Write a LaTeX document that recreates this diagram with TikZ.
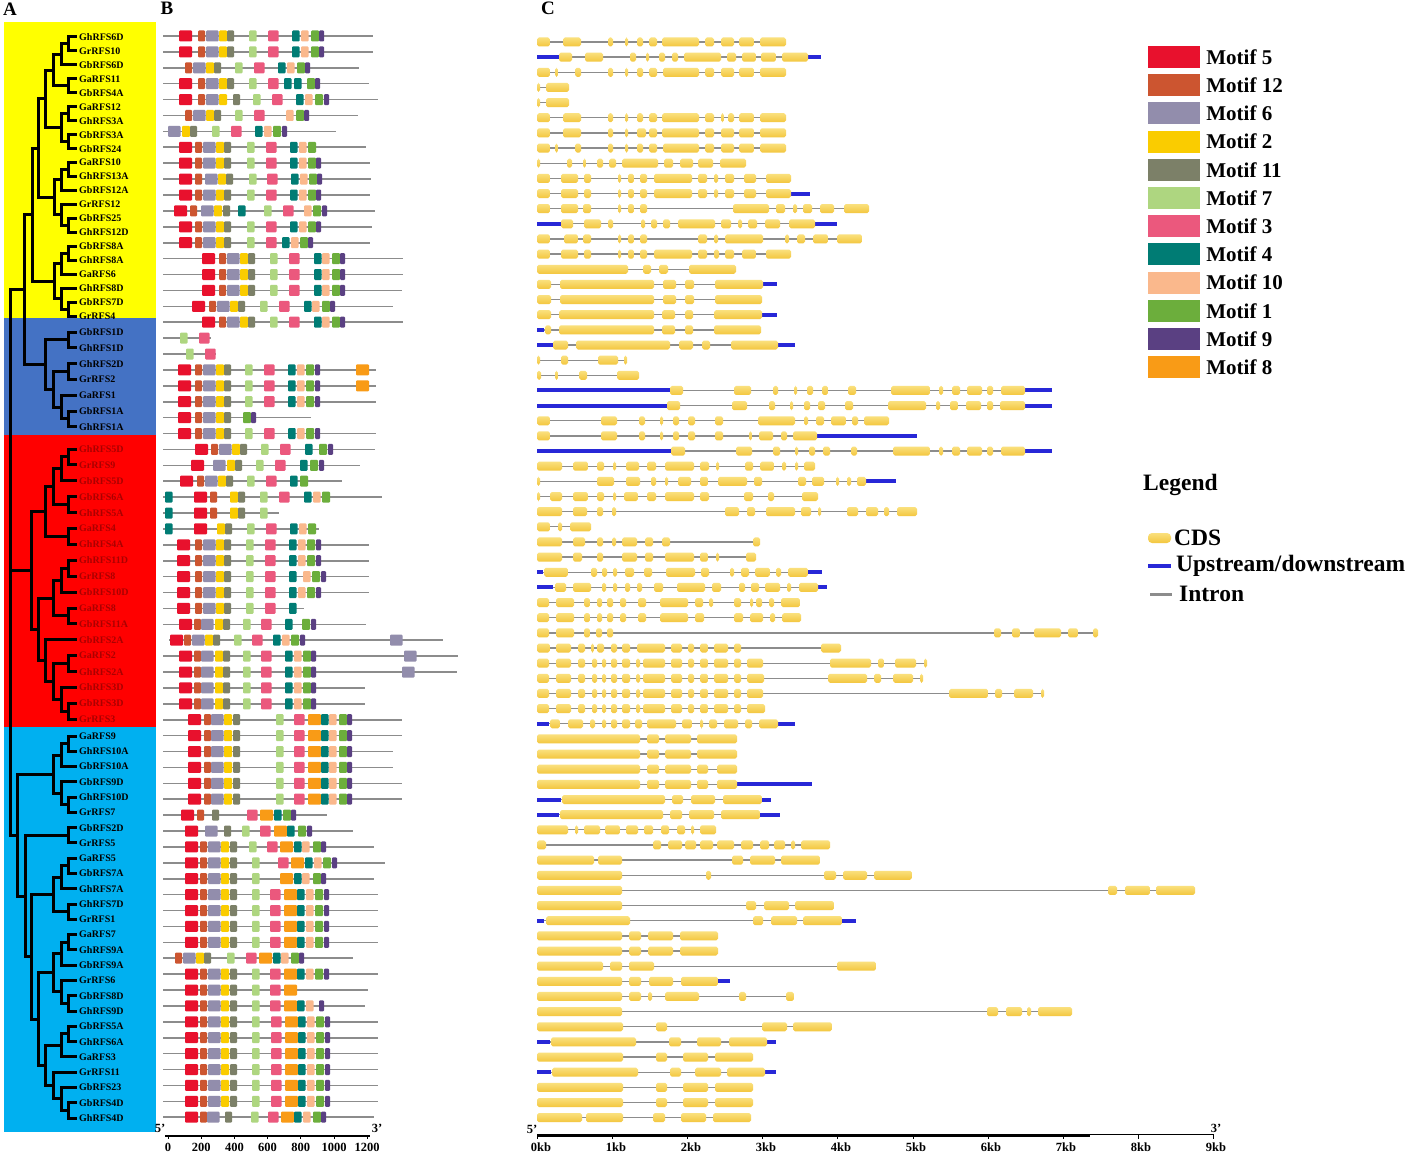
\documentclass[tikz,border=0pt]{standalone}
\usepackage{fontspec}
\setmainfont{Liberation Serif}
\usetikzlibrary{positioning, calc}

\definecolor{motif5}{RGB}{232, 17, 45}
\definecolor{motif12}{RGB}{204, 85, 48}
\definecolor{motif6}{RGB}{146, 141, 172}
\definecolor{motif2}{RGB}{250, 204, 0}
\definecolor{motif11}{RGB}{124, 128, 104}
\definecolor{motif7}{RGB}{174, 214, 128}
\definecolor{motif3}{RGB}{235, 88, 125}
\definecolor{motif4}{RGB}{0, 124, 116}
\definecolor{motif10}{RGB}{250, 184, 140}
\definecolor{motif1}{RGB}{108, 174, 60}
\definecolor{motif9}{RGB}{90, 64, 130}
\definecolor{motif8}{RGB}{249, 155, 22}
\definecolor{cladeyellow}{RGB}{255, 255, 0}
\definecolor{cladeblue}{RGB}{68, 114, 196}
\definecolor{cladered}{RGB}{255, 0, 0}
\definecolor{cladecyan}{RGB}{0, 176, 240}
\definecolor{labelred}{RGB}{170, 0, 0}
\definecolor{cdsyellow}{RGB}{243, 198, 62}
\definecolor{cdslight}{RGB}{250, 224, 125}
\definecolor{utrblue}{RGB}{40, 40, 215}
\definecolor{introngray}{RGB}{140, 140, 140}

% motif letters -> colours and widths
\colorlet{mR}{motif5}\colorlet{mO}{motif12}\colorlet{mG}{motif6}
\colorlet{mY}{motif2}\colorlet{mV}{motif11}\colorlet{mL}{motif7}
\colorlet{mP}{motif3}\colorlet{mT}{motif4}\colorlet{mE}{motif10}
\colorlet{mN}{motif1}\colorlet{mU}{motif9}\colorlet{mA}{motif8}
\def\mwR{13}\def\mwO{7}\def\mwG{12.5}\def\mwY{8}\def\mwV{7}\def\mwL{7.5}
\def\mwP{10.5}\def\mwT{7.5}\def\mwE{7.5}\def\mwN{8}\def\mwU{5}\def\mwA{13}

% one protein row of panel B
\newcommand\motifrow[4]{%
  \pgfmathsetmacro\by{36+15.9*(#1-1)}
  \draw[protline] (#2,\by) -- (#3,\by);
  \edef\mlist{#4}
  \foreach \mt/\ms in \mlist {
    \fill[fill=m\mt, rounded corners=1pt] (\ms,\by-5.5) rectangle ++(\csname mw\mt\endcsname,11);
  }
}

% one gene row of panel C
\newcommand\generow[4]{%
  \pgfmathsetmacro\cy{42+15.15*(#1-1)}
  \draw[intron] (537,\cy) -- (#2,\cy);
  \edef\ulist{#4}
  \ifx\ulist\empty\else
    \foreach \ua/\ub in \ulist { \fill[utrblue] (\ua,\cy-2) rectangle (\ub,\cy+2); }
  \fi
  \edef\clist{#3}
  \foreach \ca/\cb in \clist { \shade[cds] (\ca,\cy-4.5) rectangle (\cb,\cy+4.5); }
}

% one clade of the tree
\newcommand\clade[4]{%
  \coordinate (#1m) at ($(#3)!0.5!(#4)$);
  \coordinate (#1x) at (#2,0);
  \coordinate (#1) at (#1x |- #1m);
  \draw[branch] (#1) |- (#3);
  \draw[branch] (#1) |- (#4);
}

\def\byA{R/179,O/198,G/206,Y/219,V/227,L/249,P/268,T/292,E/301,N/311,U/319}
\def\byB{R/179,O/195,G/203,Y/216,V/224,L/247,P/266,T/290,E/299,N/308,U/316}
\def\byC{R/202,O/219,G/227,Y/240,V/248,L/270,P/289,T/314,E/322,N/332,U/340}
\def\bbl{R/178,O/195,G/203,Y/216,V/224,L/245,P/264,T/288,E/297,N/306,U/315}
\def\brd{R/177,O/195,G/203,Y/216,V/224,L/246,P/265,T/289,E/298,N/307,U/316}
\def\brs{R/179,O/194,G/201,Y/215,V/223,L/243,P/261,T/285,E/294,N/303,U/311}
\def\bcA{R/188,O/204,G/211,Y/224,V/233,L/276,P/294,A/308,T/321,E/329,N/339,U/347}
\def\bcB{R/185,O/200,G/208,Y/221,V/230,L/252,P/270,A/284,T/297,E/306,N/315,U/324}
\def\bcC{R/185,O/200,G/208,Y/221,V/230,L/252,P/271,A/285,T/298,E/307,N/316,U/325}

\def\cya{537/550,563/581,608/613,625/628,637/643,649/657,662/699,705/714,721/734,739/754,760/786}
\def\cyb{537/550,555/558,575/581,608/613,625/628,637/643,649/657,663/699,705/714,721/734,739/754,760/786}
\def\cyc{537/550,561/578,584/591,618/621,628/634,640/647,654/692,698/707,714/718,725/734,744/756,766/791}
\def\cre{537/549,556/571,578/585,592/597,602/606,611/617,622/630,636/640,643/665,671/682,688/694,700/708,714/728,734/741}
\def\ccy{537/623,656/667,683/708,715/753}

\begin{document}
\begin{tikzpicture}[x=1pt, y=-1pt,
  branch/.style={line width=3pt, black},
  genelab/.style={font=\fontsize{10}{10}\selectfont\bfseries, inner sep=0pt, anchor=west},
  protline/.style={line width=1.6pt, introngray},
  intron/.style={line width=1.3pt, introngray},
  cds/.style={top color=cdslight, bottom color=cdsyellow, rounded corners=1.8pt},
  legbox/.style={minimum width=52pt, minimum height=22pt, inner sep=0pt},
  legtext/.style={font=\fontsize{21}{22}\selectfont\bfseries, inner sep=0pt, anchor=west},
  keytext/.style={font=\fontsize{23.5}{24}\selectfont\bfseries, inner sep=0pt, anchor=west},
  axlab/.style={font=\fontsize{12.5}{12.5}\selectfont\bfseries, inner sep=0pt},
  panel/.style={font=\fontsize{19}{19}\selectfont\bfseries, inner sep=0pt}
]
  \fill[white] (0,0) rectangle (1416,1153);
  \useasboundingbox (0,0) rectangle (1416,1153);

  % panel letters
  \node[panel] (pa) at (10,9) {A};
  \node[panel] (pb) at (167,8) {B};
  \node[panel] (pc) at (548,8) {C};

  % ---- A: clade blocks ----
  \fill[cladeyellow] (4,22) rectangle (156,318);
  \fill[cladeblue] (4,318) rectangle (156,435);
  \fill[cladered] (4,435) rectangle (156,727);
  \fill[cladecyan] (4,727) rectangle (156,1132);

  % leaves and labels
  \foreach \i/\nm in {1/GhRFS6D, 2/GrRFS10, 3/GbRFS6D, 4/GaRFS11, 5/GbRFS4A,
      6/GaRFS12, 7/GhRFS3A, 8/GbRFS3A, 9/GbRFS24, 10/GaRFS10, 11/GhRFS13A,
      12/GbRFS12A, 13/GrRFS12, 14/GbRFS25, 15/GhRFS12D, 16/GbRFS8A, 17/GhRFS8A,
      18/GaRFS6, 19/GhRFS8D, 20/GbRFS7D, 21/GrRFS4, 22/GbRFS1D, 23/GhRFS1D,
      24/GhRFS2D, 25/GrRFS2, 26/GaRFS1, 27/GbRFS1A, 28/GhRFS1A, 29/GhRFS5D,
      30/GrRFS9, 31/GbRFS5D, 32/GbRFS6A, 33/GhRFS5A, 34/GaRFS4, 35/GhRFS4A,
      36/GhRFS11D, 37/GrRFS8, 38/GbRFS10D, 39/GaRFS8, 40/GbRFS11A, 41/GbRFS2A,
      42/GaRFS2, 43/GhRFS2A, 44/GhRFS3D, 45/GbRFS3D, 46/GrRFS3, 47/GaRFS9,
      48/GhRFS10A, 49/GbRFS10A, 50/GbRFS9D, 51/GhRFS10D, 52/GrRFS7, 53/GbRFS2D,
      54/GrRFS5, 55/GaRFS5, 56/GbRFS7A, 57/GhRFS7A, 58/GhRFS7D, 59/GrRFS1,
      60/GaRFS7, 61/GhRFS9A, 62/GbRFS9A, 63/GrRFS6, 64/GbRFS8D, 65/GhRFS9D,
      66/GbRFS5A, 67/GhRFS6A, 68/GaRFS3, 69/GrRFS11, 70/GbRFS23, 71/GbRFS4D,
      72/GhRFS4D} {
    \pgfmathsetmacro\ly{\i<22 ? 37+13.95*(\i-1) : (\i<29 ? 332+15.8*(\i-22) : (\i<47 ? 449+15.9*(\i-29) : 736+15.28*(\i-47)))}
    \pgfmathtruncatemacro\isred{and(\i>28,\i<47)}
    \ifnum\isred=1 \def\labcol{labelred}\else\def\labcol{black}\fi
    \coordinate (l\i) at (77,\ly);
    \node[genelab, text=\labcol] (lab\i) at (79,\ly) {\nm};
  }

  % tree
  \clade{c1}{68}{l1}{l2}
  \clade{c2}{61}{c1}{l3}
  \clade{c3}{68}{l4}{l5}
  \clade{c4}{53}{c2}{c3}
  \clade{c5}{68}{l6}{l7}
  \clade{c6}{68}{l8}{l9}
  \clade{c7}{61}{c5}{c6}
  \clade{c8}{45}{c4}{c7}
  \clade{c9}{68}{l10}{l11}
  \clade{c10}{61}{c9}{l12}
  \clade{c11}{68}{l14}{l15}
  \clade{c12}{61}{l13}{c11}
  \clade{c13}{54}{c10}{c12}
  \clade{c14}{38}{c8}{c13}
  \clade{c15}{68}{l16}{l17}
  \clade{c16}{61}{c15}{l18}
  \clade{c17}{68}{l20}{l21}
  \clade{c18}{61}{l19}{c17}
  \clade{c19}{54}{c16}{c18}
  \clade{c20}{32}{c14}{c19}
  \clade{c21}{68}{l22}{l23}
  \clade{c22}{68}{l24}{l25}
  \clade{c23}{68}{l27}{l28}
  \clade{c24}{61}{l26}{c23}
  \clade{c25}{53}{c22}{c24}
  \clade{c26}{45}{c21}{c25}
  \clade{c27}{24}{c20}{c26}
  \clade{c28}{68}{l29}{l30}
  \clade{c29}{61}{c28}{l31}
  \clade{c30}{68}{l32}{l33}
  \clade{c31}{53}{c29}{c30}
  \clade{c32}{68}{l34}{l35}
  \clade{c33}{45}{c31}{c32}
  \clade{c34}{68}{l36}{l37}
  \clade{c35}{61}{c34}{l38}
  \clade{c36}{68}{l39}{l40}
  \clade{c37}{53}{c35}{c36}
  \clade{c38}{68}{l42}{l43}
  \clade{c39}{68}{l45}{l46}
  \clade{c40}{61}{l44}{c39}
  \clade{c41}{53}{c38}{c40}
  \clade{c42}{45}{l41}{c41}
  \clade{c43}{38}{c37}{c42}
  \clade{c44}{31}{c33}{c43}
  \clade{c45}{68}{l47}{l48}
  \clade{c46}{61}{c45}{l49}
  \clade{c47}{68}{l51}{l52}
  \clade{c48}{61}{l50}{c47}
  \clade{c49}{53}{c46}{c48}
  \clade{c50}{68}{l53}{l54}
  \clade{c51}{68}{l55}{l56}
  \clade{c52}{61}{c51}{l57}
  \clade{c53}{68}{l58}{l59}
  \clade{c54}{53}{c52}{c53}
  \clade{c55}{68}{l60}{l61}
  \clade{c56}{61}{c55}{l62}
  \clade{c57}{68}{l64}{l65}
  \clade{c58}{61}{l63}{c57}
  \clade{c59}{53}{c56}{c58}
  \clade{c60}{68}{l66}{l67}
  \clade{c61}{61}{c60}{l68}
  \clade{c62}{68}{l71}{l72}
  \clade{c63}{61}{l70}{c62}
  \clade{c64}{53}{l69}{c63}
  \clade{c65}{45}{c61}{c64}
  \clade{c66}{38}{c59}{c65}
  \clade{c67}{31}{c54}{c66}
  \clade{c68}{25}{c50}{c67}
  \clade{c69}{17}{c49}{c68}
  \coordinate (rootx) at (10,0);
  \coordinate (root) at (rootx |- c44);
  \draw[branch] (root) |- (c27);
  \draw[branch] (root) |- (c69);
  \draw[branch] (root) -- (c44);

  % ---- B: motifs ----
  \motifrow{1}{163}{373}{\byA}
  \motifrow{2}{163}{373}{\byA}
  \motifrow{3}{163}{359}{O/185,G/193,Y/206,V/214,L/235,P/254,T/278,E/287,N/297,U/305}
  \motifrow{4}{163}{369}{R/179,O/198,G/206,Y/219,V/227,L/249,P/268,T/284,T/294,N/307,U/315}
  \motifrow{5}{163}{378}{R/179,O/198,G/206,Y/219,V/233,L/253,P/272,T/296,E/305,N/315,U/324}
  \motifrow{6}{163}{358}{O/185,G/193,Y/206,V/214,L/235,P/254,E/286,N/296,U/304}
  \motifrow{7}{163}{336}{G/168,Y/182,V/190,L/212,P/231,T/255,E/264,N/273,U/282}
  \motifrow{8}{163}{366}{R/179,O/195,G/203,Y/216,V/224,L/247,P/266,T/290,E/299,N/308}
  \motifrow{9}{163}{370}{\byB}
  \motifrow{10}{163}{371}{R/179,O/195,G/205,Y/218,V/226,L/249,P/267,T/291,E/300,N/309,U/317}
  \motifrow{11}{163}{370}{\byB}
  \motifrow{12}{163}{375}{R/174,O/190,G/201,Y/214,V/223,T/238,L/264,P/283,E/304,N/313,U/322}
  \motifrow{13}{163}{372}{\byB}
  \motifrow{14}{163}{370}{R/179,O/195,G/203,Y/216,V/224,L/247,P/266,T/282,E/291,N/300,U/308}
  \motifrow{15}{163}{403}{\byC}
  \motifrow{16}{163}{403}{\byC}
  \motifrow{17}{163}{402}{\byC}
  \motifrow{18}{163}{393}{R/192,O/209,G/217,Y/230,V/238,L/260,P/279,T/304,E/312,N/322,U/330}
  \motifrow{19}{163}{403}{\byC}
  \motifrow{20}{163}{211}{L/180,P/199}
  \motifrow{21}{163}{216}{L/186,P/205}
  \motifrow{22}{163}{376}{\bbl,A/356}
  \motifrow{23}{163}{376}{\bbl,A/356}
  \motifrow{24}{163}{376}{\bbl}
  \motifrow{25}{163}{311}{R/178,O/195,G/203,Y/216,V/224,N/243,U/251}
  \motifrow{26}{163}{376}{\bbl}
  \motifrow{27}{163}{375}{R/195,O/211,G/219,Y/232,V/240,L/261,P/280,T/305,N/319,U/328}
  \motifrow{28}{163}{360}{R/191,G/213,Y/227,V/235,L/256,P/275,T/300,N/310,U/319}
  \motifrow{29}{163}{342}{R/180,O/197,G/205,Y/218,V/226,L/247,P/266,T/290,N/300}
  \motifrow{30}{163}{382}{T/165,R/194,O/210,Y/230,V/238,L/260,P/279,T/304,E/313,N/322}
  \motifrow{31}{163}{279}{T/165,R/194,O/210,Y/230,V/238,L/260}
  \motifrow{32}{163}{319}{T/165,R/194,Y/217,V/225,L/247,P/266,T/290,E/299,N/308}
  \motifrow{33}{163}{369}{\brd}
  \motifrow{34}{163}{369}{\brd}
  \motifrow{35}{163}{369}{R/177,O/195,G/203,Y/216,V/224,L/246,P/265,T/289,E/303,N/312,U/321}
  \motifrow{36}{163}{369}{\brd}
  \motifrow{37}{163}{304}{R/177,O/195,G/203,Y/216,V/224,L/246,P/265,T/289}
  \motifrow{38}{163}{366}{R/179,O/194,G/201,Y/215,V/223,L/243,P/261,T/285,N/302,U/311}
  \motifrow{39}{169}{443}{R/170,O/184,G/192,Y/205,V/213,L/234,P/252,T/273,E/282,N/291,U/300,G/390}
  \motifrow{40}{163}{458}{\brs,G/404}
  \motifrow{41}{163}{457}{\brs,G/402}
  \motifrow{42}{163}{365}{\brs}
  \motifrow{43}{163}{365}{\brs}
  \motifrow{44}{163}{402}{\bcA}
  \motifrow{45}{163}{402}{\bcA}
  \motifrow{46}{163}{393}{\bcA}
  \motifrow{47}{163}{393}{\bcA}
  \motifrow{48}{163}{402}{\bcA}
  \motifrow{49}{163}{402}{\bcA}
  \motifrow{50}{163}{327}{R/181,O/197,V/212,P/247,A/260,T/274,N/283,U/291}
  \motifrow{51}{163}{353}{R/185,G/205,V/224,L/242,P/260,A/274,T/287,N/298,U/307}
  \motifrow{52}{163}{374}{R/185,O/200,G/208,Y/221,V/230,L/249,P/267,A/280,T/294,E/302,N/313,U/321}
  \motifrow{53}{163}{385}{R/185,O/200,G/208,Y/221,V/230,L/252,P/278,A/291,T/305,E/314,N/323,U/332}
  \motifrow{54}{163}{374}{R/185,O/200,G/208,Y/221,V/230,L/252,A/280,T/294,E/302,N/313,U/321}
  \motifrow{55}{163}{378}{\bcB}
  \motifrow{56}{163}{378}{\bcB}
  \motifrow{57}{163}{378}{\bcB}
  \motifrow{58}{163}{378}{\bcB}
  \motifrow{59}{163}{353}{O/175,G/183,Y/196,V/204,L/227,P/246,A/259,T/273,E/281,N/291,U/299}
  \motifrow{60}{163}{378}{\bcB}
  \motifrow{61}{163}{368}{R/185,O/200,G/208,Y/221,V/230,L/252,P/270,A/284}
  \motifrow{62}{163}{365}{R/185,O/200,G/208,Y/221,V/230,L/252,P/270,A/284,T/297,E/306,U/319}
  \motifrow{63}{163}{378}{\bcC}
  \motifrow{64}{163}{378}{\bcC}
  \motifrow{65}{163}{378}{\bcC}
  \motifrow{66}{163}{378}{\bcC}
  \motifrow{67}{163}{378}{\bcC}
  \motifrow{68}{163}{378}{\bcC}
  \motifrow{69}{163}{374}{R/185,O/200,G/207,V/225,L/251,P/268,A/281,T/294,E/303,N/313,U/321}

  % B axis
  \draw[line width=1.8pt] (165,1136) -- (370,1136);
  \foreach \v [count=\k from 0] in {0,200,400,600,800,1000,1200} {
    \draw[line width=1pt] (168+33.2*\k,1136) -- (168+33.2*\k,1139);
    \node[axlab] (bt\k) at (168+33.2*\k,1147) {\v};
  }
  \node[axlab] (b5) at (160,1128) {5'};
  \node[axlab] (b3) at (377,1128) {3'};

  % ---- C: gene structures ----
  \generow{1}{786}{\cya}{}
  \generow{2}{821}{559/572,585/603,630/636,646/649,659/665,672/678,684/721,727/736,742/756,761/776,782/808}{537/559,808/821}
  \generow{3}{786}{\cyb}{}
  \generow{4}{569}{537/540,546/569}{}
  \generow{5}{569}{537/540,546/569}{}
  \generow{6}{786}{537/550,563/581,608/613,625/628,637/643,649/657,662/699,705/714,721/724,728/734,739/754,760/786}{}
  \generow{7}{786}{537/550,563/581,608/613,625/628,637/646,649/657,662/699,705/714,721/734,739/754,760/786}{}
  \generow{8}{786}{\cyb}{}
  \generow{9}{746}{537/540,567/572,583/586,597/603,609/616,622/658,664/673,680/693,698/713,720/746}{}
  \generow{10}{791}{\cyc}{}
  \generow{11}{810}{\cyc}{791/810}
  \generow{12}{869}{537/550,561/578,583/591,618/621,628/634,640/647,733/769,776/785,793/797,803/812,820/834,844/869}{}
  \generow{13}{837}{561/573,584/601,608/613,641/645,651/657,663/670,678/715,721/731,738/742,748/757,765/780,789/815}{537/561,815/837}
  \generow{14}{862}{537/550,564/578,583/591,618/621,628/634,640/647,698/707,714/718,725/763,785/789,797/805,813/828,837/862}{}
  \generow{15}{791}{537/550,561/578,584/591,618/621,628/634,640/647,654/692,698/707,714/719,725/734,742/756,766/791}{}
  \generow{16}{736}{537/628,643/651,659/668,689/736}{}
  \generow{17}{777}{537/551,560/654,663/676,685/694,715/763}{763/777}
  \generow{18}{762}{537/551,560/654,663/676,685/694,715/762}{}
  \generow{19}{777}{537/551,559/654,662/675,685/693,714/762}{762/777}
  \generow{20}{761}{545/551,559/654,662/675,685/693,714/761}{537/544}
  \generow{21}{795}{553/568,576/670,679/693,702/710,731/778}{537/553,778/795}
  \generow{22}{627}{537/540,561/568,598/618,624/627}{}
  \generow{23}{639}{537/541,555/558,579/587,617/639}{}
  \generow{24}{1052}{670/683,734/751,773/778,794/797,807/813,822/828,848/856,891/930,939/943,952/960,967/982,987/993,1001/1025}{537/670,1025/1052}
  \generow{25}{1052}{667/680,732/747,769/775,790/793,804/810,818/825,845/853,888/926,936/940,950/958,966/981,987/993,1000/1025}{537/667,1025/1052}
  \generow{26}{889}{537/550,601/617,639/645,660/663,673/679,688/695,715/723,758/795,804/808,816/824,831/846,852/858,864/889}{}
  \generow{27}{917}{537/550,601/617,639/645,660/663,673/679,688/695,715/723,749/752,759/773,781/787,793/817}{817/917}
  \generow{28}{1052}{671/685,736/752,773/780,795/798,809/815,823/830,851/857,893/930,939/943,952/960,967/982,987/993,1001/1025}{537/671,1025/1052}
  \generow{29}{815}{537/562,573/588,597/604,613/616,626/639,647/656,665/694,700/709,716/719,745/753,760/774,782/786,795/798,804/815}{}
  \generow{30}{896}{537/540,597/614,626/640,651/656,665/668,678/691,700/708,718/747,754/762,798/806,812/824,836/839,847/851,857/866}{866/896}
  \generow{31}{818}{537/540,550/562,573/588,597/604,613/616,624/638,647/656,665/694,700/709,744/753,768/774,802/818}{}
  \generow{32}{917}{537/562,573/587,597/603,612/616,725/739,747/755,766/795,801/811,818/821,847/858,866/878,884/889,897/917}{}
  \generow{33}{591}{537/550,558/562,570/591}{}
  \generow{34}{760}{537/562,573/585,597/603,612/616,622/637,645/653,662/670,753/760}{}
  \generow{35}{756}{537/562,573/582,597/603,622/637,645/653,665/694,700/708,716/719,746/756}{}
  \generow{36}{822}{544/568,591/597,602/607,613/617,625/634,644/652,666/695,701/709,730/734,741/749,755/770,776/781,788/808}{537/543,808/822}
  \generow{37}{827}{555/566,573/591,602/606,613/617,625/630,637/642,654/663,677/705,712/721,739/745,751/759,765/780,787/791,799/818}{537/553,818/827}
  \generow{38}{800}{537/549,556/574,584/590,597/602,607/613,620/626,638/646,660/688,695/703,709/713,734/741,750/753,756/762,769/774,781/800}{}
  \generow{39}{801}{537/549,556/574,584/590,597/602,607/613,620/626,638/646,660/688,695/704,734/743,750/763,770/775,782/801}{}
  \generow{40}{1098}{537/549,556/574,584/590,596/602,607/613,994/1001,1012/1020,1034/1061,1068/1078,1093/1098}{}
  \generow{41}{841}{537/550,556/571,578/585,591/594,597/604,611/617,622/630,637/665,671/682,688/694,700/708,714/728,734/741,821/841}{}
  \generow{42}{927}{\cre,747/763,830/871,878/884,895/916,924/927}{}
  \generow{43}{923}{\cre,747/764,828/867,874/881,893/913,920/923}{}
  \generow{44}{1044}{\cre,747/763,949/988,995/1002,1014/1033,1041/1044}{}
  \generow{45}{765}{\cre,747/765}{}
  \generow{46}{795}{550/560,568/583,590/595,602/606,611/617,622/630,635/642,647/676,682/692,700/703,709/717,724/738,745/752,759/778}{537/549,778/795}
  \generow{47}{737}{537/640,647/659,665/691,697/737}{}
  \generow{48}{737}{537/640,647/659,665/691,697/737}{}
  \generow{49}{737}{537/640,647/659,665/691,697/708,717/737}{}
  \generow{50}{812}{537/640,647/659,665/691,697/708,717/737}{737/812}
  \generow{51}{771}{562/665,672/683,691/715,723/762}{537/561,762/771}
  \generow{52}{780}{560/663,670/682,689/714,721/760}{537/559,760/780}
  \generow{53}{716}{537/568,575/578,584/600,605/620,626/638,644/653,661/669,677/685,691/694,700/716}{}
  \generow{54}{830}{537/546,653/661,668/682,685/696,700/713,717/734,741/753,760/769,774/785,791/795,801/830}{}
  \generow{55}{820}{537/594,598/622,732/743,750/775,781/820}{}
  \generow{56}{912}{537/622,706/711,824/836,843/867,874/912}{}
  \generow{57}{1195}{537/622,1108/1117,1125/1150,1156/1195}{}
  \generow{58}{834}{537/622,746/756,764/789,795/834}{}
  \generow{59}{856}{546/630,753/763,771/797,803/842}{537/544,842/856}
  \generow{60}{718}{537/622,629/641,648/673,680/718}{}
  \generow{61}{718}{537/622,629/641,648/673,680/718}{}
  \generow{62}{876}{537/603,610/622,629/654,837/876}{}
  \generow{63}{730}{537/622,629/641,649/673,681/718}{718/730}
  \generow{64}{794}{537/622,629/641,648/652,665/699,739/746,786/794}{}
  \generow{65}{1072}{537/622,987/998,1006/1022,1027/1031,1038/1072}{}
  \generow{66}{832}{537/623,656/667,762/787,793/832}{}
  \generow{67}{776}{551/636,669/681,697/721,729/767}{537/550,767/776}
  \generow{68}{753}{\ccy}{}
  \generow{69}{776}{552/638,670/681,695/721,727/765}{537/551,765/776}
  \generow{70}{753}{\ccy}{}
  \generow{71}{753}{\ccy}{}
  \generow{72}{751}{537/582,586/623,653/665,681/706,713/751}{}

  % C axis
  \draw[line width=0.8pt] (537,1134.5) -- (1214,1134.5);
  \draw[line width=2pt] (537,1136) -- (1090,1136);
  \foreach \k in {0,...,9} {
    \draw[line width=1pt] (537+75.2*\k,1134) -- (537+75.2*\k,1139);
    \node[axlab] (ct\k) at (541+75.0*\k,1147) {\k kb};
  }
  \node[axlab] (c5) at (532,1129) {5'};
  \node[axlab] (c3) at (1216,1128) {3'};

  % ---- motif legend ----
  \foreach \k/\c/\lab in {0/motif5/Motif 5, 1/motif12/Motif 12, 2/motif6/Motif 6,
      3/motif2/Motif 2, 4/motif11/Motif 11, 5/motif7/Motif 7, 6/motif3/Motif 3,
      7/motif4/Motif 4, 8/motif10/Motif 10, 9/motif1/Motif 1, 10/motif9/Motif 9,
      11/motif8/Motif 8} {
    \node[legbox, fill=\c] (lb\k) at (1174,57+28.2*\k) {};
    \node[legtext, right=6pt of lb\k] (lt\k) {\lab};
  }

  % ---- gene structure legend ----
  \node[keytext] (legtitle) at (1143,485) {Legend};
  \shade[cds, rounded corners=4pt] (1148,533) rectangle (1171,543);
  \coordinate (cdskey) at (1171,538);
  \node[keytext, right=3pt of cdskey] (cdstext) {CDS};
  \fill[utrblue] (1148,564) rectangle (1171,568);
  \coordinate (utrkey) at (1171,566);
  \node[keytext, right=5pt of utrkey] (utrtext) {Upstream/downstream};
  \fill[introngray] (1150,592.5) rectangle (1172,595.5);
  \coordinate (intkey) at (1172,594);
  \node[keytext, right=7pt of intkey] (inttext) {Intron};
\end{tikzpicture}
\end{document}
